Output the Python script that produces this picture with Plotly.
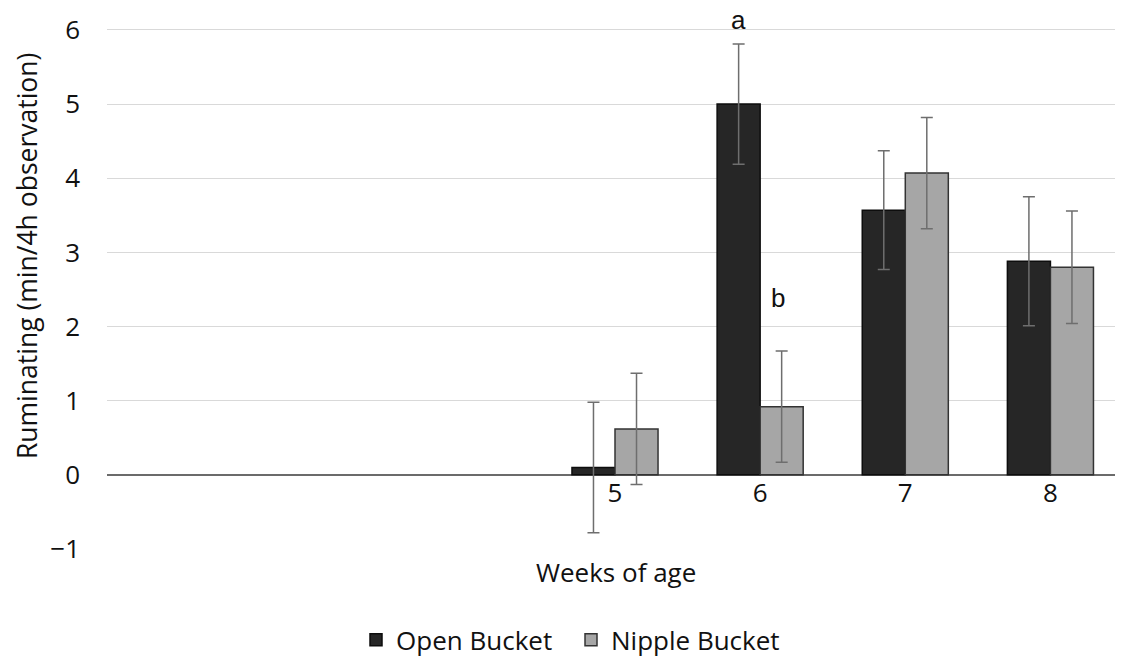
import plotly.graph_objects as go

weeks = [2, 3, 4, 5, 6, 7, 8]
tick_weeks = [5, 6, 7, 8]
tick_labels = ["5", "6", "7", "8"]

open_bucket = [None, None, None, 0.10, 5.00, 3.57, 2.88]
open_err = [None, None, None, 0.88, 0.81, 0.80, 0.87]
nipple_bucket = [None, None, None, 0.62, 0.92, 4.07, 2.80]
nipple_err = [None, None, None, 0.75, 0.75, 0.75, 0.76]

letters = ["a", "b"]
letter_x = [5.85, 6.12]
letter_y = [6.14, 2.39]

FONT = "Open Sans"
Y_MIN, Y_MAX = -1, 6.296

fig = go.Figure()
fig.add_trace(go.Bar(
    x=weeks, y=open_bucket, name="Open Bucket",
    marker=dict(color="#262626", line=dict(color="#0d0d0d", width=1.5)),
    error_y=dict(type="data", array=open_err, visible=True, color="#6e6e6e", thickness=1.5, width=6),
))
fig.add_trace(go.Bar(
    x=weeks, y=nipple_bucket, name="Nipple Bucket",
    marker=dict(color="#a6a6a6", line=dict(color="#333333", width=1.5)),
    error_y=dict(type="data", array=nipple_err, visible=True, color="#6e6e6e", thickness=1.5, width=6),
))

for t, x, y in zip(letters, letter_x, letter_y):
    fig.add_annotation(x=x, y=y, text=t, showarrow=False, xref="x", yref="y",
                       font=dict(family="Liberation Sans", size=26, color="#111111"))

fig.add_annotation(text="Weeks of age", xref="paper", yref="paper", x=0.501, y=-0.0425,
                   xanchor="center", yanchor="middle",
                   showarrow=False, font=dict(family=FONT, size=26, color="#111111"))
fig.add_annotation(text="Ruminating (min/4h observation)", xref="paper", yref="paper",
                   x=-0.0787, y=0.5416, xanchor="center", yanchor="middle",
                   textangle=-90, showarrow=False,
                   font=dict(family=FONT, size=26.5, color="#111111"))

fig.update_layout(
    width=1115, height=657,
    margin=dict(l=99, r=0, t=0, b=116),
    paper_bgcolor="white", plot_bgcolor="white",
    barmode="group", bargap=0.407, bargroupgap=0,
    font=dict(family=FONT, size=26, color="#111111"),
    showlegend=True,
    legend=dict(orientation="h", xref="paper", yref="paper",
                x=0.4567, y=-0.168, xanchor="center", yanchor="middle",
                entrywidth=170, font=dict(family=FONT, size=26, color="#111111")),
    xaxis=dict(range=[1.5, 8.5], tickmode="array", tickvals=tick_weeks, ticktext=tick_labels,
               showgrid=False, zeroline=False, showline=False, ticks="",
               anchor="free", position=(0 - Y_MIN) / (Y_MAX - Y_MIN), automargin=False),
    yaxis=dict(range=[Y_MIN, Y_MAX], tickmode="array", tickvals=[-1, 0, 1, 2, 3, 4, 5, 6],
               showgrid=True, gridcolor="#d9d9d9", gridwidth=1,
               zeroline=True, zerolinecolor="#6b6b6b", zerolinewidth=2,
               showline=False, ticks="", ticklabelstandoff=26, automargin=False),
)
fig.write_html("out.html")
